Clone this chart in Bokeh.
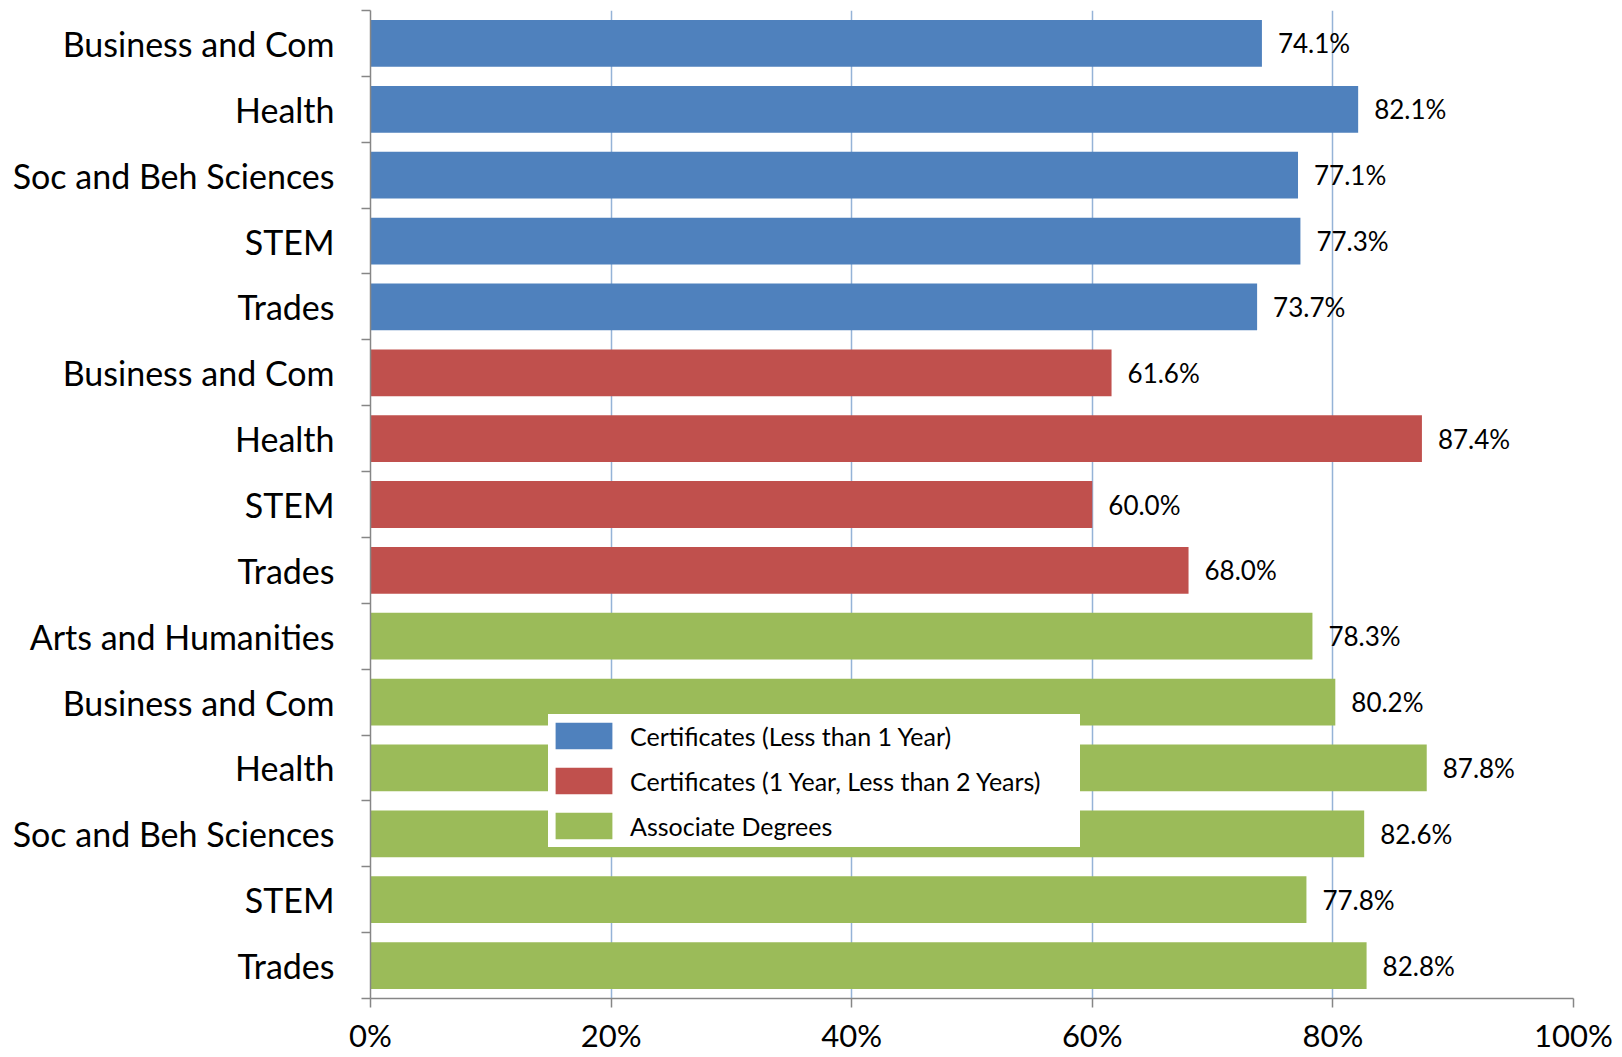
from bokeh.plotting import figure
from bokeh.models import (ColumnDataSource, Range1d, FixedTicker, LinearAxis,
                          PrintfTickFormatter, Legend, Grid)
from bokeh.core.properties import value
from bokeh.embed import file_html
from bokeh.resources import INLINE

# ---- data (top to bottom) ----
series_names = ["Certificates (Less than 1 Year)",
                "Certificates (1 Year, Less than 2 Years)",
                "Associate Degrees"]
cert_lt1_cats = ["Business and Com", "Health", "Soc and Beh Sciences", "STEM", "Trades"]
cert_lt1_vals = [74.1, 82.1, 77.1, 77.3, 73.7]
cert_1to2_cats = ["Business and Com", "Health", "STEM", "Trades"]
cert_1to2_vals = [61.6, 87.4, 60.0, 68.0]
assoc_cats = ["Arts and Humanities", "Business and Com", "Health",
              "Soc and Beh Sciences", "STEM", "Trades"]
assoc_vals = [78.3, 80.2, 87.8, 82.6, 77.8, 82.8]
x_ticks = [0, 20, 40, 60, 80, 100]
colors = ["#4F81BD", "#C0504D", "#9BBB59"]

FONT = "Lato"

groups = [(cert_lt1_cats, cert_lt1_vals), (cert_1to2_cats, cert_1to2_vals),
          (assoc_cats, assoc_vals)]
n_total = sum(len(c) for c, _ in groups)

p = figure(width=1620, height=1056, output_backend="svg", toolbar_location=None,
           x_range=Range1d(0, 100), y_range=Range1d(n_total - 0.5, -0.5),
           x_axis_type=None, y_axis_type=None,
           min_border_left=370, min_border_top=10, min_border_right=47,
           min_border_bottom=55)
p.outline_line_color = None
p.background_fill_color = "white"
p.border_fill_color = "white"

# vertical grid
grid = Grid(dimension=0, ticker=FixedTicker(ticks=x_ticks))
grid.grid_line_color = "#95B3D7"
grid.grid_line_width = 1.5
p.add_layout(grid, "center")

labels = {}
start = 0
legend_items = []
for (cats, vals), name, col in zip(groups, series_names, colors):
    ys = list(range(start, start + len(cats)))
    for y, c in zip(ys, cats):
        labels[y] = c
    src = ColumnDataSource(dict(y=ys, v=vals, lbl=[f"{v:.1f}%" for v in vals]))
    r = p.hbar(y="y", right="v", left=0, height=0.71, source=src,
               fill_color=col, line_color=None)
    legend_items.append((name, [r]))
    p.text(x="v", y="y", text="lbl", source=src, x_offset=16,
           text_baseline="middle", text_align="left",
           text_font=value(FONT), text_font_size="26px", text_color="black")
    start += len(cats)

# x axis
xaxis = LinearAxis(ticker=FixedTicker(ticks=x_ticks),
                   formatter=PrintfTickFormatter(format="%d%%"))
xaxis.axis_line_color = "#868686"
xaxis.axis_line_width = 1.5
xaxis.major_tick_line_color = "#868686"
xaxis.major_tick_line_width = 1.5
xaxis.major_tick_out = 9
xaxis.major_tick_in = 0
xaxis.minor_tick_line_color = None
xaxis.major_label_text_font = FONT
xaxis.major_label_text_font_size = "31px"
xaxis.major_label_text_color = "black"
xaxis.major_label_standoff = 8
p.add_layout(xaxis, "below")

# y axis: labels at centers, ticks at boundaries
centers = list(range(n_total))
bounds = [i - 0.5 for i in range(n_total + 1)]
yaxis = LinearAxis(ticker=FixedTicker(ticks=centers, minor_ticks=bounds))
yaxis.major_label_overrides = labels
yaxis.axis_line_color = "#868686"
yaxis.axis_line_width = 1.5
yaxis.major_tick_line_color = None
yaxis.major_tick_out = 0
yaxis.major_tick_in = 0
yaxis.minor_tick_line_color = "#868686"
yaxis.minor_tick_line_width = 1.5
yaxis.minor_tick_out = 9
yaxis.minor_tick_in = 0
yaxis.major_label_text_font = FONT
yaxis.major_label_text_font_size = "34px"
yaxis.major_label_text_color = "black"
yaxis.major_label_standoff = 27
p.add_layout(yaxis, "left")

legend = Legend(items=legend_items, location=(178, 151),
                orientation="vertical")
legend.background_fill_color = "white"
legend.background_fill_alpha = 1.0
legend.border_line_color = None
legend.glyph_width = 71
legend.glyph_height = 33
legend.label_height = 43
legend.label_width = 450
legend.label_standoff = 11
legend.spacing = 2
legend.padding = 7
legend.margin = 0
legend.label_text_font = FONT
legend.label_text_font_size = "25px"
legend.label_text_color = "black"
legend.label_text_baseline = "middle"
p.add_layout(legend, "center")

open("out.html", "w").write(file_html(p, INLINE))
